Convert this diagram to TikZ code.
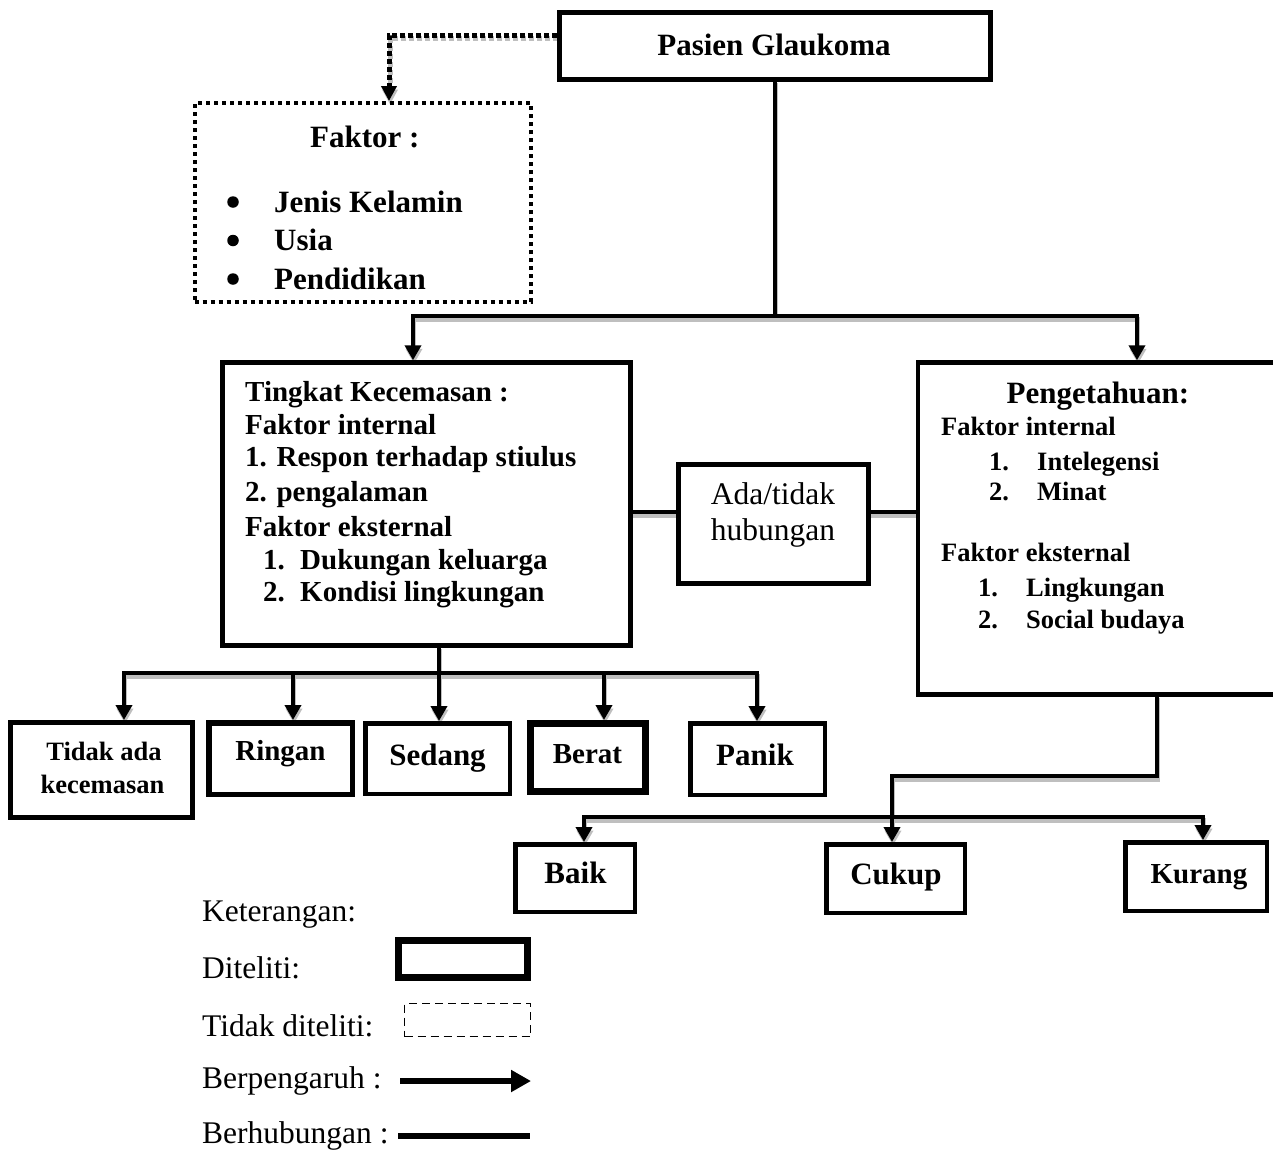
\documentclass[tikz,border=0pt]{standalone}
\usepackage{fontspec}
\setmainfont{Liberation Serif}
\usetikzlibrary{arrows.meta,backgrounds}
\tikzset{
  box/.style={draw, rectangle, line width=4.5pt, inner sep=0pt},
  dotbox/.style={draw, rectangle, line width=4pt, dash pattern=on 4pt off 4pt, inner sep=0pt},
  dashbox/.style={draw, rectangle, line width=1.8pt, dash pattern=on 8pt off 5pt, inner sep=0pt},
  conn/.style={line width=4.5pt, line cap=rect},
  arr/.style={line width=4.5pt, -{Triangle[width=16pt,length=15pt]}},
  dotarr/.style={line width=5pt, dash pattern=on 5pt off 3pt, -{Triangle[width=15pt,length=15pt]}},
  bulletdot/.style={circle, fill, inner sep=0pt, minimum size=11.5pt},
  fbA/.style={font=\fontsize{31pt}{36pt}\selectfont\bfseries},
  fbB/.style={font=\fontsize{29pt}{34pt}\selectfont\bfseries},
  fbC/.style={font=\fontsize{26.5pt}{31pt}\selectfont\bfseries},
  frA/.style={font=\fontsize{31.5pt}{36pt}\selectfont},
  txt/.style={inner sep=0pt, anchor=base west},
  ctxt/.style={inner sep=0pt, anchor=base},
}
\newcommand\myconnectors[1]{%
  \draw[dotarr,#1] (pasien.west |- dA) -- (dA) -- (dA |- faktor.north);
  \draw[conn,#1] (pasien.south) -- (pasien.south |- jL);
  \draw[conn,#1] (jL) -- (jR);
  \draw[arr,#1] (jL) -- (jL |- tingkat.north);
  \draw[arr,#1] (jR) -- (jR |- peng.north);
  \draw[conn,#1] (tingkat.east |- hY) -- (ada.west |- hY);
  \draw[conn,#1] (ada.east |- hY) -- (peng.west |- hY);
  \draw[conn,#1] (bT |- tingkat.south) -- (bT);
  \draw[conn,#1] (b1) -- (b5);
  \draw[arr,#1] (b1) -- (b1 |- tidak.north);
  \draw[arr,#1] (b2) -- (b2 |- ringan.north);
  \draw[arr,#1] (b3) -- (b3 |- sedang.north);
  \draw[arr,#1] (b4) -- (b4 |- berat.north);
  \draw[arr,#1] (b5) -- (b5 |- panik.north);
  \draw[conn,#1] (kP |- peng.south) -- (kP) -- (kC);
  \draw[conn,#1] (kB) -- (kK);
  \draw[arr,#1] (kC) -- (kC |- cukup.north);
  \draw[arr,#1] (kB) -- (kB |- baik.north);
  \draw[arr,#1] (kK) -- (kK |- kurang.north);
}
\begin{document}
\begin{tikzpicture}[x=1pt,y=-1pt]
\useasboundingbox (0,0) rectangle (1273,1149);

% ---- boxes ----
\node[box, minimum width=431pt, minimum height=67pt] (pasien) at (775,46) {};
\node[ctxt, fbA] at (774,55) {Pasien Glaukoma};

\node[dotbox, minimum width=336pt, minimum height=199pt] (faktor) at (362.5,202.5) {};
\node[txt, fbA] at (310,147) {Faktor :};
\foreach \yy/\lbl in {212/Jenis Kelamin, 250.5/Usia, 289/Pendidikan} {
  \node[bulletdot] at (233,\yy-10) {};
  \node[txt, fbA] at (274,\yy) {\lbl};
}

\node[box, minimum width=408pt, minimum height=283pt] (tingkat) at (426.5,504) {};
\foreach \yy/\lbl in {401.7/Tingkat Kecemasan :, 434.3/Faktor internal, 466.7/1. Respon terhadap stiulus, 501.7/2. pengalaman, 536/Faktor eksternal} {
  \node[txt, fbB] at (245,\yy) {\lbl};
}
\foreach \yy/\num/\lbl in {569.3/1./Dukungan keluarga, 601.7/2./Kondisi lingkungan} {
  \node[txt, fbB] at (263,\yy) {\num};
  \node[txt, fbB] at (300,\yy) {\lbl};
}

\node[box, minimum width=190pt, minimum height=119pt] (ada) at (773.5,524) {};
\node[ctxt, frA] at (773,504) {Ada/tidak};
\node[ctxt, frA] at (773,540.7) {hubungan};

\node[box, minimum width=372pt, minimum height=332pt] (peng) at (1104.2,528.5) {};
\node[ctxt, fbA] at (1098,403) {Pengetahuan:};
\node[txt, fbC] at (941,435) {Faktor internal};
\node[txt, fbC] at (941,561.7) {Faktor eksternal};
\foreach \yy/\xn/\xt/\num/\lbl in {470.7/989/1037/1./Intelegensi, 500.7/989/1037/2./Minat, 596.7/978/1026/1./Lingkungan, 628/978/1026/2./Social budaya} {
  \node[txt, fbC] at (\xn,\yy) {\num};
  \node[txt, fbC] at (\xt,\yy) {\lbl};
}

\node[box, line width=5pt, minimum width=182pt, minimum height=95pt] (tidak) at (101.5,770) {};
\node[ctxt, fbC] at (104,760) {Tidak ada};
\node[ctxt, fbC] at (102.5,793) {kecemasan};
\node[box, line width=5.5pt, minimum width=143.5pt, minimum height=71.5pt] (ringan) at (280.5,758.5) {};
\node[ctxt, fbB] at (280.5,760) {Ringan};
\node[box, minimum width=144.5pt, minimum height=70.5pt] (sedang) at (437.5,758.5) {};
\node[ctxt, fbA] at (437.5,765) {Sedang};
\node[box, line width=7pt, minimum width=115pt, minimum height=68pt] (berat) at (588,757.5) {};
\node[ctxt, fbB] at (587.5,763) {Berat};
\node[box, minimum width=134.5pt, minimum height=71.5pt] (panik) at (757.5,759) {};
\node[ctxt, fbA] at (755,765) {Panik};

\node[box, minimum width=119.5pt, minimum height=67.5pt] (baik) at (575,878) {};
\node[ctxt, fbA] at (575.5,883) {Baik};
\node[box, minimum width=138.5pt, minimum height=68.5pt] (cukup) at (895.5,878.5) {};
\node[ctxt, fbA] at (896,884) {Cukup};
\node[box, minimum width=141.5pt, minimum height=68.5pt] (kurang) at (1196,876.5) {};
\node[ctxt, fbB] at (1199,883) {Kurang};

% ---- legend ----
\node[txt, frA] at (202,921.7) {Keterangan:};
\node[txt, frA] at (202,978) {Diteliti:};
\node[box, line width=7pt, minimum width=128.5pt, minimum height=37pt] (legA) at (462.75,958.5) {};
\node[txt, frA] at (202,1036.7) {Tidak diteliti:};
\node[dashbox, minimum width=126pt, minimum height=33pt] (legB) at (467.5,1020) {};
\node[txt, frA] at (202,1088) {Berpengaruh :};
\coordinate (la1) at (400,1081);
\coordinate (la2) at (531,1081);
\draw[line width=6pt, -{Triangle[width=21pt,length=20pt]}] (la1) -- (la2);
\node[txt, frA] at (202,1143) {Berhubungan :};
\coordinate (lb1) at (398,1135.5);
\coordinate (lb2) at (530,1135.5);
\draw[line width=6pt] (lb1) -- (lb2);

% ---- connectors ----
\coordinate (dA) at (389,35);
\coordinate (jL) at (413,316);
\coordinate (jR) at (1137,316);
\coordinate (bT) at (439,673);
\coordinate (b1) at (124,673);
\coordinate (b2) at (293,673);
\coordinate (b3) at (439,673);
\coordinate (b4) at (604,673);
\coordinate (b5) at (757,673);
\coordinate (kP) at (1157,776);
\coordinate (kC) at (892,776);
\coordinate (kB) at (584,817);
\coordinate (kK) at (1203,817);
\coordinate (hY) at (0,512);

\begin{scope}[on background layer]
  \begin{scope}[transform canvas={shift={(1pt,-3.5pt)}}]
    \myconnectors{gray!50}
  \end{scope}
  \myconnectors{black}
\end{scope}
\end{tikzpicture}
\end{document}
